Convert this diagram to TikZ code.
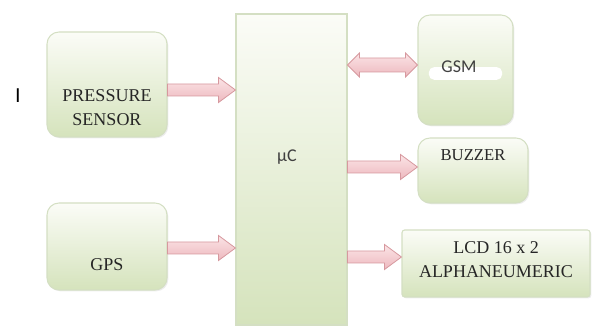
\documentclass[tikz,border=0pt]{standalone}
\usepackage{fontspec}
\setmainfont{Liberation Serif}
\newfontfamily\calfont{Carlito}
\newfontfamily\arialfont{Liberation Sans}
\usetikzlibrary{calc,shadows}

\definecolor{boxtop}{RGB}{251,252,247}
\definecolor{boxgreen}{RGB}{213,227,188}
\definecolor{boxline}{RGB}{212,223,195}
\definecolor{arrtop}{RGB}{251,228,230}
\definecolor{arrbot}{RGB}{237,184,190}
\definecolor{arrline}{RGB}{214,152,158}

\begin{document}
\begin{tikzpicture}[
  x=0.75pt, y=-0.75pt,
  box/.style={draw=boxline, line width=0.8pt, top color=boxtop, bottom color=boxgreen,
              rounded corners=9pt, inner sep=0pt,
              drop shadow={opacity=0.15, shadow xshift=1pt, shadow yshift=-1pt}},
  txt/.style={font=\fontsize{13.5}{18}\selectfont, align=center, text=black!85},
  sans/.style={font=\calfont\fontsize{13.5}{15}\selectfont, text=black!75},
  blob/.style={fill=white, rounded corners=4pt, minimum width=55pt,
               minimum height=9.5pt, inner sep=0pt},
  arr/.style={draw=arrline, line width=0.6pt, top color=arrtop, bottom color=arrbot,
              to path={let \p1=(\tikztostart), \p2=(\tikztotarget) in
                (\x1,\y1+4.5pt) -- (\x2-12.75pt,\y1+4.5pt) -- (\x2-12.75pt,\y1+9.4pt)
                -- (\x2,\y1) -- (\x2-12.75pt,\y1-9.4pt) -- (\x2-12.75pt,\y1-4.5pt)
                -- (\x1,\y1-4.5pt) -- cycle}},
  dblarr/.style={draw=arrline, line width=0.6pt, top color=arrtop, bottom color=arrbot,
              to path={let \p1=(\tikztostart), \p2=(\tikztotarget) in
                (\x1,\y1) -- (\x1+9pt,\y1+9pt) -- (\x1+9pt,\y1+5.25pt)
                -- (\x2-9pt,\y1+5.25pt) -- (\x2-9pt,\y1+9pt) -- (\x2,\y1)
                -- (\x2-9pt,\y1-9pt) -- (\x2-9pt,\y1-5.25pt) -- (\x1+9pt,\y1-5.25pt)
                -- (\x1+9pt,\y1-9pt) -- cycle}}
]
  \useasboundingbox (0,0) rectangle (592,327);

  \node[font=\arialfont\fontsize{15}{17}\selectfont] (mark) at (18,96) {I};

  \node[box, minimum width=90pt, minimum height=78.75pt,
        label={[txt, yshift=-17.6pt]center:{PRESSURE\\SENSOR}}] (ps) at (107,84.5) {};
  \node[box, minimum width=90pt, minimum height=65.25pt,
        label={[txt, yshift=-13.9pt]center:GPS}] (gps) at (107,246.5) {};
  \node[box, rounded corners=0pt, minimum width=83.25pt, minimum height=233.25pt,
        label={[sans, xshift=-3.4pt, yshift=9.4pt]center:µC}] (uc) at (291.5,169.5) {};
  \node[box, minimum width=71.25pt, minimum height=82.5pt,
        label={[blob, yshift=-2.6pt]center:{}},
        label={[sans, xshift=-4.9pt, yshift=2.2pt]center:GSM}] (gsm) at (465.5,70) {};
  \node[box, minimum width=82.5pt, minimum height=48.75pt,
        label={[txt, font=\fontsize{12.5}{15}\selectfont, yshift=11.6pt]center:BUZZER}] (buz) at (473,170.5) {};
  \node[box, rounded corners=2pt, minimum width=141pt, minimum height=50.25pt,
        label={[txt, yshift=3pt]center:{LCD 16 x 2\\ALPHANEUMERIC}}] (lcd) at (496,263.5) {};

  \draw[arr] (ps.east |- 0,90) to (uc.west);
  \draw[arr] (gps.east |- 0,248) to (uc.west);
  \draw[dblarr] (uc.east |- 0,65) to (gsm.west);
  \draw[arr] (uc.east |- 0,167) to (buz.west);
  \draw[arr] (uc.east |- 0,257) to (lcd.west);
\end{tikzpicture}
\end{document}
